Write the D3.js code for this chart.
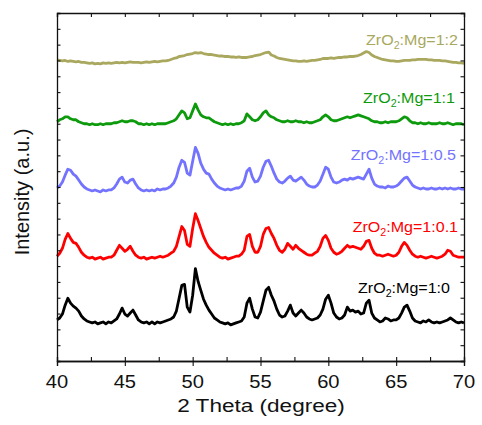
<!DOCTYPE html>
<html>
<head>
<meta charset="utf-8">
<script src="https://cdn.jsdelivr.net/npm/d3@7"></script>
<style>
  body { margin: 0; background: #fff; }
  text { font-family: "Liberation Sans", Arial, sans-serif; }
</style>
</head>
<body>
<svg id="chart" width="482" height="425"></svg>
<script>
// XRD patterns of ZrO2:Mg samples, 2θ = 40–70°, sampled every 0.2°
const angleStart = 40;
const angleStep = 0.2;

const sampleNames = ["1:0", "1:0.1", "1:0.5", "1:1", "1:2"];
const sampleColors = ["#000000", "#ff0000", "#7373ff", "#0d9a0d", "#a9a85e"];
// vertical offsets used to stack the patterns (a.u.)
const stackOffsets = [38.5, 104, 172, 239, 301];

const intensity_1_0 = [
  3, 5, 9, 18, 25, 20, 17, 15, 12, 7,
  4, 2, 1, 0, 1, -1, 0, 1, -1, 1,
  0, 2, 4, 9, 15, 9, 7, 10, 13, 8,
  3, 1, 0, 1, -1, 1, -1, 1, 0, 1,
  2, 3, 4, 6, 12, 25, 38, 39, 16, 11,
  28, 55, 42, 33, 24, 18, 13, 9, 5, 3,
  1, 0, -1, 0, -2, -1, 0, 1, 2, 6,
  20, 25, 14, 6, 5, 11, 22, 33, 36, 28,
  22, 14, 8, 6, 7, 12, 18, 10, 7, 10,
  13, 10, 6, 4, 3, 4, 5, 8, 14, 24,
  28, 20, 10, 6, 4, 5, 8, 16, 12, 13,
  11, 12, 9, 10, 20, 23, 10, 5, 3, 1,
  2, 5, 4, 2, 3, 3, 5, 10, 16, 18,
  12, 5, 2, 1, 0, 2, 1, 3, 1, 0,
  1, 0, 1, 2, 3, 5, 3, 1, 0, 1,
  0
];
const intensity_1_01 = [
  2, 5, 10, 19, 25, 20, 16, 15, 11, 6,
  3, 1, 0, 1, -1, 0, 1, -1, 0, 1,
  1, 3, 8, 13, 10, 7, 9, 12, 7, 3,
  1, 0, 1, -1, 0, 1, 0, 1, 2, 1,
  2, 3, 5, 7, 12, 22, 32, 28, 14, 12,
  30, 45, 38, 30, 22, 16, 11, 8, 5, 3,
  1, 0, 1, -1, 0, 1, 2, 2, 4, 8,
  22, 24, 12, 6, 6, 12, 24, 30, 31, 25,
  20, 13, 8, 6, 9, 15, 12, 9, 13, 10,
  8, 6, 4, 3, 3, 5, 7, 12, 20, 23,
  18, 10, 6, 4, 5, 7, 10, 13, 11, 12,
  11, 10, 9, 12, 17, 18, 10, 5, 3, 3,
  2, 3, 4, 3, 2, 3, 6, 12, 16, 13,
  8, 4, 2, 1, 2, 1, 0, 1, 2, 1,
  0, 1, 2, 4, 8, 7, 3, 2, 1, 1,
  1
];
const intensity_1_05 = [
  3, 5, 9, 16, 22, 21, 17, 15, 11, 7,
  4, 2, 1, 0, 1, 0, -1, 1, 0, 1,
  1, 3, 7, 12, 14, 9, 8, 11, 12, 7,
  3, 1, 0, 1, 0, 1, 0, 2, 1, 2,
  2, 3, 5, 8, 14, 24, 31, 29, 18, 16,
  30, 44, 38, 28, 22, 18, 17, 12, 8, 5,
  3, 2, 1, 2, 1, 2, 3, 3, 5, 10,
  20, 23, 14, 9, 10, 15, 24, 30, 31, 25,
  18, 12, 9, 8, 10, 13, 15, 11, 10, 12,
  14, 11, 7, 5, 4, 4, 6, 10, 17, 24,
  22, 14, 9, 8, 9, 11, 12, 11, 13, 12,
  13, 14, 13, 12, 17, 22, 13, 7, 5, 4,
  4, 3, 5, 4, 4, 5, 7, 10, 13, 14,
  10, 6, 4, 3, 2, 3, 2, 2, 3, 2,
  2, 3, 2, 3, 2, 3, 2, 2, 3, 2,
  2
];
const intensity_1_1 = [
  3, 5, 6, 8, 8, 6, 5, 5, 3, 2,
  1, 1, 0, 1, 0, 0, 1, 0, 1, 1,
  1, 2, 2, 3, 4, 3, 3, 4, 4, 3,
  1, 1, 0, 1, 0, 1, 0, 1, 1, 1,
  1, 2, 3, 4, 6, 10, 14, 12, 6, 7,
  14, 21, 15, 10, 8, 7, 7, 5, 3, 2,
  1, 0, 1, 0, 1, 0, 1, 1, 2, 4,
  11, 8, 5, 4, 5, 8, 12, 14, 10, 8,
  7, 5, 4, 3, 3, 4, 3, 3, 4, 3,
  3, 2, 3, 2, 2, 3, 4, 5, 8, 10,
  8, 5, 4, 4, 5, 6, 7, 8, 7, 8,
  9, 10, 9, 8, 7, 6, 4, 3, 3, 2,
  2, 3, 2, 3, 3, 3, 4, 6, 8, 7,
  4, 2, 2, 1, 2, 1, 1, 2, 1, 1,
  1, 2, 1, 1, 2, 1, 0, 1, 1, 1,
  0
];
const intensity_1_2 = [
  3.5, 3, 2.5, 3, 2, 2.5, 2, 1.5, 2, 1,
  1, 0.5, 0, 0.5, -0.5, 0, -0.5, 0.5, 0, 0.5,
  0, 0.5, 1, 0.5, 1, 0.5, 1, 1.5, 1, 1,
  1, 0.5, 1, 1.5, 1, 1.5, 2, 1.5, 2, 2.5,
  2.5, 3, 4, 5, 5.5, 7, 7.5, 8, 9, 9.5,
  10, 11, 10.5, 11, 10, 9.5, 9, 9, 8.5, 8,
  7.5, 7.5, 7, 7, 6.5, 6.5, 6, 6.5, 6, 6,
  6, 6.5, 7, 8, 8.5, 9, 10, 11, 11.5, 8.5,
  7.5, 6, 5, 4.5, 4, 3.5, 3, 2.5, 2.5, 2,
  2, 2.5, 2, 2.5, 3, 3, 3.5, 4, 5, 5,
  5, 5.5, 5, 5.5, 6, 6, 6.5, 6.5, 7, 7,
  7.5, 8, 9, 10.5, 12, 11, 8.5, 7, 6, 5,
  4, 3.5, 3, 2.5, 2.5, 2, 2, 2.5, 3, 3,
  3, 3.5, 3.5, 4, 4, 4, 4, 3.5, 3.5, 3,
  3, 3, 2.5, 2.5, 2, 1.5, 1, 1, 0.5, 0.5,
  0
];
const patterns = [intensity_1_0, intensity_1_01, intensity_1_05, intensity_1_1, intensity_1_2];

const xTicksMajor = [40, 45, 50, 55, 60, 65, 70];
const xTicksMinor = [42.5, 47.5, 52.5, 57.5, 62.5, 67.5];
const yTickStep = 16;

// ---- layout ----
const svg = d3.select("#chart");
const plot = { left: 57, right: 464, top: 13, bottom: 361 };

const x = d3.scaleLinear().domain([40, 70]).range([plot.left, plot.right]);
const y = d3.scaleLinear().domain([0, 352]).range([plot.bottom, plot.top]);

// ---- patterns ----
const line = d3.line()
  .x((d, i) => x(angleStart + i * angleStep))
  .y(d => y(d));

patterns.forEach((vals, k) => {
  const stacked = vals.map(v => v + stackOffsets[k]);
  svg.append("path")
    .datum(stacked)
    .attr("fill", "none")
    .attr("stroke", sampleColors[k])
    .attr("stroke-width", 2.8)
    .attr("stroke-linejoin", "round")
    .attr("d", line);
});

// ---- axes: minor ticks inside, major ticks on the bottom point outward ----
const yTicks = d3.range(0, 352.1, yTickStep);

const axB = d3.axisBottom(x).tickValues(xTicksMajor).tickSize(5).tickFormat("");
const axBminor = d3.axisBottom(x).tickValues(xTicksMinor.concat(xTicksMajor)).tickSize(-4).tickFormat("");
const axT = d3.axisTop(x).tickValues(xTicksMajor.concat(xTicksMinor)).tickSize(-4).tickFormat("");
const axL = d3.axisLeft(y).tickValues(yTicks).tickSize(-3.5).tickFormat("");
const axR = d3.axisRight(y).tickValues(yTicks).tickSize(-3.5).tickFormat("");

function styleAxis(g) {
  g.selectAll("path").attr("stroke", "#111").attr("stroke-width", 1.3);
  g.selectAll("line").attr("stroke", "#111").attr("stroke-width", 1.1);
}
svg.append("g").attr("transform", `translate(0,${plot.bottom})`).call(axBminor).call(styleAxis);
svg.append("g").attr("transform", `translate(0,${plot.bottom})`).call(axB).call(styleAxis);
svg.append("g").attr("transform", `translate(0,${plot.top})`).call(axT).call(styleAxis);
svg.append("g").attr("transform", `translate(${plot.left},0)`).call(axL).call(styleAxis);
svg.append("g").attr("transform", `translate(${plot.right},0)`).call(axR).call(styleAxis);

// tick labels (slightly wide lettering)
svg.append("g").selectAll("text")
  .data(xTicksMajor)
  .join("text")
  .attr("transform", d => `translate(${x(d)},388) scale(1.15,1)`)
  .attr("text-anchor", "middle")
  .attr("font-size", 17.5)
  .attr("fill", "#111")
  .text(d => d);

// axis titles
svg.append("text")
  .attr("transform", "translate(261,412) scale(1.22,1)")
  .attr("text-anchor", "middle")
  .attr("font-size", 18.5)
  .attr("fill", "#111")
  .text("2 Theta (degree)");

svg.append("text")
  .attr("transform", "translate(29,192) rotate(-90)")
  .attr("text-anchor", "middle")
  .attr("font-size", 20)
  .attr("fill", "#111")
  .text("Intensity (a.u.)");

// sample labels
const labelAnchors = [[450, 293], [458, 232], [456, 160], [455, 103], [458, 45]];
sampleNames.forEach((name, k) => {
  const t = svg.append("text")
    .attr("transform", `translate(${labelAnchors[k][0]},${labelAnchors[k][1]}) scale(1.07,1)`)
    .attr("text-anchor", "end")
    .attr("font-size", 15)
    .attr("fill", sampleColors[k]);
  t.append("tspan").text("ZrO");
  t.append("tspan").attr("font-size", 10).attr("dy", 4).text("2");
  t.append("tspan").attr("dy", -4).text(":Mg=" + name);
});
</script>
</body>
</html>
